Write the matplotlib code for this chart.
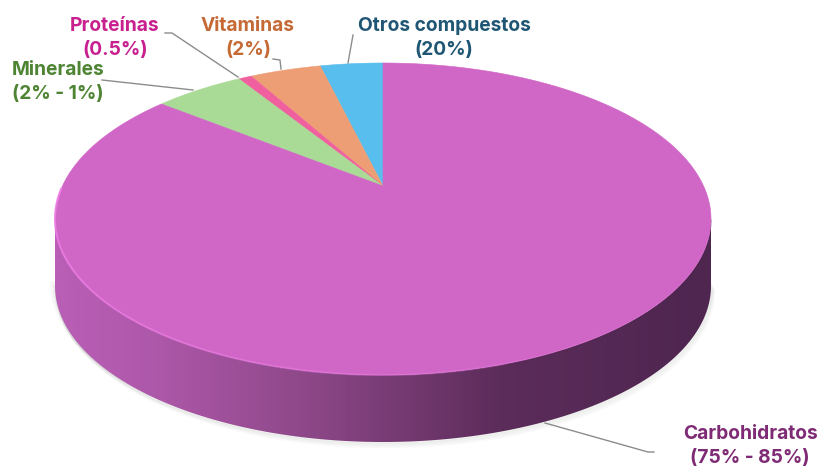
import numpy as np
import matplotlib
matplotlib.use('Agg')
import matplotlib.pyplot as plt
from matplotlib.patches import Polygon
from matplotlib.collections import LineCollection
from matplotlib.colors import LinearSegmentedColormap

# slice sizes in drawing order, counter-clockwise from twelve o'clock
nombres = ['Otros compuestos', 'Vitaminas', 'Proteínas', 'Minerales', 'Carbohidratos']
porciones = [3.8, 4.3, 0.8, 5.4, 85.7]
colores = ['#58BEEE', '#EE9E74', '#F0609F', '#A9DB96', '#D066C6']

etiquetas = ['Otros compuestos\n(20%)', 'Vitaminas\n(2%)', 'Proteínas\n(0.5%)',
             'Minerales\n(2% - 1%)', 'Carbohidratos\n(75% - 85%)']
colores_texto = ['#1F5673', '#C56A35', '#C8218F', '#4E8433', '#7E2A74']
pos_texto = [(444, 38), (248, 38), (115, 38), (58, 82), (750, 446)]

# leader lines, label end first
guias = [
    [(353, 35), (348, 63)],
    [(273, 59), (280, 60), (281, 69)],
    [(165, 33), (172, 33), (238, 77)],
    [(102, 80), (193, 90)],
    [(654, 452), (648, 452), (545, 423)],
]

# perspective disc: centre of the pie, half width, far/near reach, tilt, wall height
cx, cy = 383, 186
semi_x = 328
fondo, frente = 123, 189
altura = 67

p = (frente - fondo) / (frente + fondo)
B = fondo * (1 + p)
A = semi_x * np.sqrt(1 - p ** 2)


def proyectar(ang):
    # ang in radians, 0 at the back of the disc, growing towards the left
    u = -np.sin(ang)
    v = np.cos(ang)
    d = 1 + p * v
    return cx + A * u / d, cy - B * v / d


fig = plt.figure(figsize=(8.21, 4.68), dpi=100)
ax = fig.add_axes([0, 0, 1, 1])
ax.set_xlim(0, 821)
ax.set_ylim(468, 0)
ax.axis('off')

# front half of the rim, from the left extreme to the right extreme
ang_izq = np.pi / 2 + np.arcsin(p)
ang_der = 2 * np.pi - ang_izq
ts = np.linspace(ang_izq, ang_der, 300)
bx, by = proyectar(ts)

# soft shadow under the wall
for i, a in zip([7, 5, 3, 1], [0.03, 0.04, 0.05, 0.07]):
    ax.plot(bx + i * 0.4, by + altura + i * 0.7, color='#607060', lw=2, alpha=a, zorder=1)
    ax.plot(bx - i * 0.6, by + altura - 3, color='#607060', lw=2, alpha=a * 0.6, zorder=1)

# wall, shaded from left to right
pared = np.column_stack([
    np.concatenate([bx, bx[::-1]]),
    np.concatenate([by, (by + altura)[::-1]]),
])
cmap_pared = LinearSegmentedColormap.from_list('pared', [
    (0.0, '#B95FB6'), (0.15, '#AE58AA'), (0.38, '#8E4889'),
    (0.68, '#5C2C5A'), (1.0, '#4E2650'),
])
poly = Polygon(pared, closed=True, facecolor='none', edgecolor='none', zorder=2)
ax.add_patch(poly)
grad = np.linspace(0, 1, 400).reshape(1, -1)
im = ax.imshow(grad, extent=[bx.min(), bx.max(), 468, 0], cmap=cmap_pared,
               aspect='auto', zorder=2)
im.set_clip_path(poly)
ax.set_xlim(0, 821)
ax.set_ylim(468, 0)

# top face, one polygon per slice
acum = np.cumsum([0] + porciones) / sum(porciones) * 2 * np.pi
for ini, fin, color in zip(acum[:-1], acum[1:], colores):
    t = np.linspace(ini, fin, max(int((fin - ini) * 150), 8))
    x, y = proyectar(t)
    verts = np.column_stack([np.r_[cx, x], np.r_[cy, y]])
    ax.add_patch(Polygon(verts, closed=True, facecolor=color, edgecolor=color, lw=0.4, zorder=3))

# bright bevel on the rim, fading out to the right
t = np.linspace(ang_izq - 0.2, np.pi * 1.35, 200)
rx, ry = proyectar(t)
seg = np.stack([np.column_stack([rx[:-1], ry[:-1]]), np.column_stack([rx[1:], ry[1:]])], axis=1)
rgba = np.tile(matplotlib.colors.to_rgba('#F07EE8'), (len(seg), 1))
rgba[:, 3] = np.linspace(0.9, 0, len(seg))
ax.add_collection(LineCollection(seg, colors=rgba, linewidths=1.5, zorder=4))

# dark contact line where the wall meets the top on the right
t = np.linspace(np.pi * 1.1, ang_der, 150)
rx, ry = proyectar(t)
ax.plot(rx, ry + 1, color='#3F1E40', lw=0.8, alpha=0.5, zorder=2.5)

for g in guias:
    gx, gy = zip(*g)
    ax.plot(gx, gy, color='#8C8C8C', lw=1, zorder=5, solid_joinstyle='miter')

for txt, col, (tx, ty) in zip(etiquetas, colores_texto, pos_texto):
    ax.text(tx, ty, txt, color=col, ha='center', va='center', fontsize=13.8,
            fontfamily='Inter', fontweight='bold', linespacing=1.45, zorder=6)

fig.savefig('out.png', dpi=100)
